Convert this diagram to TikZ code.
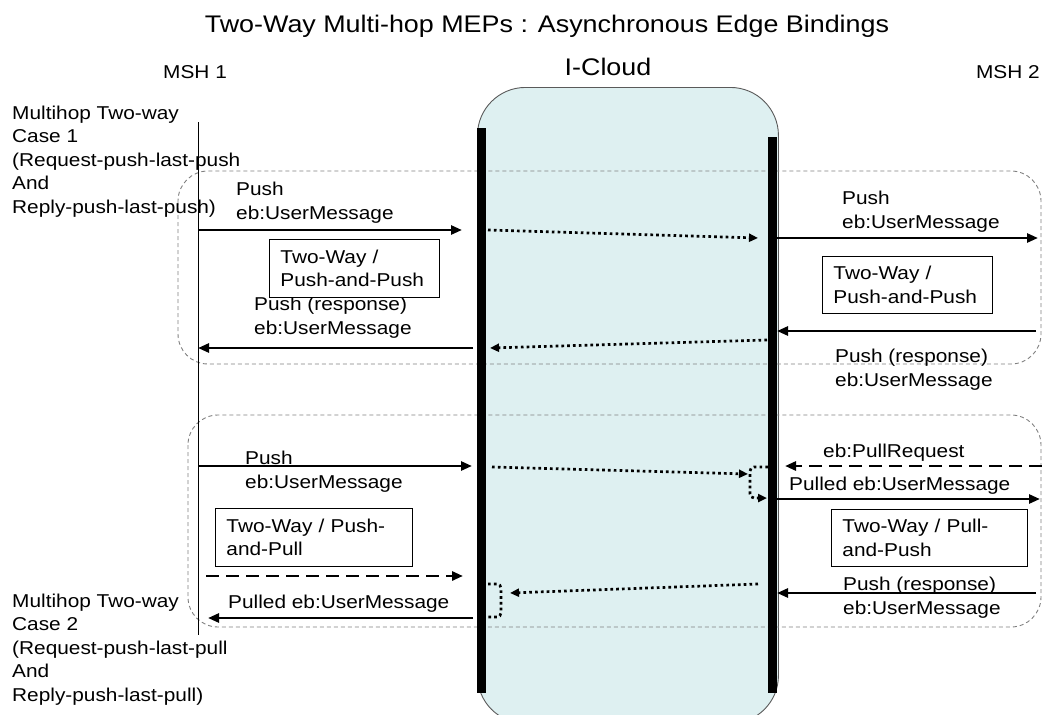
\documentclass[tikz,border=0pt]{standalone}
\usepackage{fontspec}
\setmainfont{Liberation Sans}[FakeStretch=1.12]
\usetikzlibrary{arrows.meta}
\definecolor{cloudfill}{RGB}{222,240,241}
\definecolor{cloudedge}{RGB}{90,90,90}
\definecolor{groupedge}{RGB}{128,128,128}
\begin{document}
\begin{tikzpicture}[x=1pt,y=-1pt,
  bodyfont/.style={font=\fontsize{18.6}{23.4}\selectfont},
  txt/.style={bodyfont, inner sep=0pt, anchor=base west, align=left},
  msg/.style={line width=2.6pt, -{Triangle[length=11pt,width=9pt]}},
  dotmsg/.style={line width=2.7pt, dash pattern=on 2.7pt off 3.1pt, -{Triangle[length=9pt,width=8pt]}},
  dotplain/.style={line width=2.7pt, dash pattern=on 2.7pt off 3.1pt},
  dashmsg/.style={line width=2.8pt, dash pattern=on 13pt off 7pt, -{Triangle[length=11pt,width=9pt]}},
  group/.style={draw=groupedge, line width=0.9pt, dash pattern=on 4pt off 3pt, rounded corners=30pt},
  mbox/.style={draw, line width=0.9pt, fill=white, anchor=north west, inner xsep=11pt, inner ysep=0pt, align=left, bodyfont},
  bar/.style={fill=black, inner sep=0pt, anchor=north west, minimum width=9pt}
]
\useasboundingbox (0,0) rectangle (1042,715);
% cloud
\node[draw=cloudedge, fill=cloudfill, line width=0.9pt, rounded corners=48pt, inner sep=0pt,
      anchor=north west, minimum width=301pt, minimum height=636pt] (cloud) at (477,87) {};
% group frames
\draw[group] (178,171) rectangle (1041,364);
\draw[group] (188,415) rectangle (1041,627);
% lifelines / bars
\coordinate (lifeT) at (198,122);
\coordinate (lifeB) at (198,635);
\draw[line width=0.9pt] (lifeT) -- (lifeB);
\node[bar, minimum height=565pt] (barL) at (477,128) {};
\node[bar, minimum height=556pt] (barR) at (768,137) {};
% headings
\node[inner sep=0pt, anchor=base, font=\fontsize{24}{28}\selectfont] (title) at (547,32)
  {Two-Way Multi-hop MEPs : Asynchronous Edge Bindings};
\node[txt] (msh1) at (163,78) {MSH 1};
\node[txt, anchor=base east] (msh2) at (1040,78) {MSH 2};
\node[inner sep=0pt, anchor=base, font=\fontsize{24}{30}\selectfont] (icloud) at (608,75) {I-Cloud};
% case labels (base = last line)
\node[txt] (case1) at (12,213) {Multihop Two-way\\Case 1\\(Request-push-last-push\\And\\Reply-push-last-push)};
\node[txt] (case2) at (12,701) {Multihop Two-way\\Case 2\\(Request-push-last-pull\\And\\Reply-push-last-pull)};
% ---------- case 1 ----------
\coordinate (a1s) at (198,230); \coordinate (a1e) at (462,230);
\coordinate (d1s) at (488,230); \coordinate (d1e) at (758,238);
\coordinate (a2s) at (777,238); \coordinate (a2e) at (1038,238);
\coordinate (a4s) at (1036,331); \coordinate (a4e) at (777,331);
\coordinate (d2s) at (767,340); \coordinate (d2e) at (490,348);
\coordinate (a3s) at (473,348); \coordinate (a3e) at (198,348);
\draw[msg] (a1s) -- (a1e);
\draw[dotmsg] (d1s) -- (d1e);
\draw[msg] (a2s) -- (a2e);
\draw[msg] (a4s) -- (a4e);
\draw[dotmsg] (d2s) -- (d2e);
\draw[msg] (a3s) -- (a3e);
\node[txt] (l1) at (236,219) {Push\\eb:UserMessage};
\node[txt] (l2) at (842,228) {Push\\eb:UserMessage};
\node[txt] (l3) at (254,334) {Push (response)\\eb:UserMessage};
\node[txt] (l4) at (835,386) {Push (response)\\eb:UserMessage};
\node[mbox, minimum width=170pt, minimum height=58pt, text width=148pt] (box1L) at (269,239) {Two-Way /\\Push-and-Push};
\node[mbox, minimum width=170pt, minimum height=57pt, text width=148pt] (box1R) at (822,256) {Two-Way /\\Push-and-Push};
% ---------- case 2 ----------
\coordinate (b1s) at (198,466); \coordinate (b1e) at (472,466);
\coordinate (d3s) at (492,467); \coordinate (d3e) at (748,474);
\coordinate (prs) at (1042,466); \coordinate (pre) at (785,466);
\coordinate (brA) at (768,467); \coordinate (brB) at (750,467);
\coordinate (brC) at (750,498); \coordinate (brD) at (767,498);
\coordinate (pms) at (777,499); \coordinate (pme) at (1040,499);
\coordinate (rrs) at (1036,593); \coordinate (rre) at (777,593);
\coordinate (d4s) at (758,584); \coordinate (d4e) at (510,593);
\coordinate (blA) at (488,584); \coordinate (blB) at (501,584);
\coordinate (blC) at (501,617); \coordinate (blD) at (485,617);
\coordinate (lds) at (206,576); \coordinate (lde) at (463,576);
\coordinate (lss) at (473,618); \coordinate (lse) at (208,618);
\node[txt] (m1) at (245,488) {Push\\eb:UserMessage};
\draw[msg] (b1s) -- (b1e);
\draw[dotmsg] (d3s) -- (d3e);
\draw[dotmsg, rounded corners=4pt] (brA) -- (brB) -- (brC) -- (brD);
\draw[dashmsg] (prs) -- (pre);
\draw[msg] (pms) -- (pme);
\draw[msg] (rrs) -- (rre);
\draw[dotmsg] (d4s) -- (d4e);
\draw[dotplain, rounded corners=4pt] (blA) -- (blB) -- (blC) -- (blD);
\draw[dashmsg] (lds) -- (lde);
\draw[msg] (lss) -- (lse);
\node[txt] (m2) at (823,457) {eb:PullRequest};
\node[txt] (m3) at (789,490) {Pulled eb:UserMessage};
\node[txt] (m4) at (843,614) {Push (response)\\eb:UserMessage};
\node[txt] (m5) at (228,608) {Pulled eb:UserMessage};
\node[mbox, minimum width=197pt, minimum height=58pt, text width=175pt] (box2L) at (215,508) {Two-Way / Push-\\and-Pull};
\node[mbox, minimum width=196pt, minimum height=57pt, text width=174pt] (box2R) at (831,509) {Two-Way / Pull-\\and-Push};
\end{tikzpicture}
\end{document}
